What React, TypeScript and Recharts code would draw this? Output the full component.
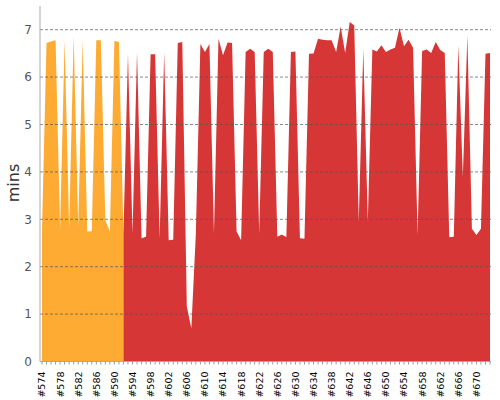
import { AreaChart, Area, XAxis, YAxis, ReferenceLine } from 'recharts';

// build numbers on the x axis
const builds = [
  '#574', '#575', '#576', '#577', '#578', '#579', '#580', '#581', '#582', '#583',
  '#584', '#585', '#586', '#587', '#588', '#589', '#590', '#591', '#592', '#593',
  '#594', '#595', '#596', '#597', '#598', '#599', '#600', '#601', '#602', '#603',
  '#604', '#605', '#606', '#607', '#608', '#609', '#610', '#611', '#612', '#613',
  '#614', '#615', '#616', '#617', '#618', '#619', '#620', '#621', '#622', '#623',
  '#624', '#625', '#626', '#627', '#628', '#629', '#630', '#631', '#632', '#633',
  '#634', '#635', '#636', '#637', '#638', '#639', '#640', '#641', '#642', '#643',
  '#644', '#645', '#646', '#647', '#648', '#649', '#650', '#651', '#652', '#653',
  '#654', '#655', '#656', '#657', '#658', '#659', '#660', '#661', '#662', '#663',
  '#664', '#665', '#666', '#667', '#668', '#669', '#670', '#671', '#672', '#673',
];

// duration (mins) of builds #574 - #591
const unstableMins = [
  2.8, 6.72, 6.75, 6.78, 2.8, 6.78, 2.8, 6.88, 2.85, 6.78,
  2.74, 2.75, 6.78, 6.78, 2.98, 2.74, 6.76, 6.74,
];

// duration (mins) of builds #592 - #673
const failedMins = [
  2.7, 6.49, 2.7, 6.53, 2.6, 2.63, 6.48, 6.48, 2.6, 6.52,
  2.56, 2.57, 6.72, 6.74, 1.16, 0.7, 2.7, 6.7, 6.53, 6.7,
  2.7, 6.81, 6.46, 6.73, 6.72, 2.74, 2.56, 6.53, 6.6, 6.53,
  2.7, 6.53, 6.6, 6.53, 2.63, 2.68, 2.62, 6.53, 6.54, 2.6,
  2.59, 6.49, 6.5, 6.81, 6.79, 6.78, 6.78, 6.53, 7.06, 6.51,
  7.16, 7.09, 2.95, 6.6, 2.95, 6.58, 6.54, 6.67, 6.53, 6.58,
  6.62, 7.04, 6.65, 6.79, 6.62, 2.67, 6.55, 6.58, 6.51, 6.74,
  6.57, 6.51, 2.62, 2.63, 6.67, 3.9, 6.88, 2.8, 2.67, 2.8,
  6.49, 6.51,
];

const yTicks = [0, 1, 2, 3, 4, 5, 6, 7];
const gridLines = [1, 2, 3, 4, 5, 6, 7];

const split = unstableMins.length;

const data = builds.map((build, i) => ({
  build,
  // the orange area joins the first failed build so the two areas meet
  unstable: i < split ? unstableMins[i] : i === split ? failedMins[0] : null,
  failed: i >= split ? failedMins[i - split] : null,
}));

const BuildTick = (props: any) => {
  const { x, y, payload, index } = props;
  if (index % 4 !== 0) return <g />;

  return (
    <g transform={`translate(${x},${y})`}>
      <text
        x={-5}
        dy='0.36em'
        textAnchor='end'
        transform='rotate(-90)'
        fontSize={9.5}
        fontFamily='DejaVu Sans'
        fill='#000'
      >
        {payload.value}
      </text>
    </g>
  );
};

const MinsLabel = () => (
  <text
    x={13}
    y={183}
    transform='rotate(-90 13 183)'
    textAnchor='middle'
    dominantBaseline='central'
    fontSize={16}
    fontFamily='DejaVu Sans'
    fill='#333'
  >
    mins
  </text>
);

export default function App() {
  return (
    <div style={{ position: 'absolute', left: 0, top: 0, width: 500, height: 400, background: '#fff' }}>
      <AreaChart
        width={500}
        height={400}
        data={data}
        margin={{ top: 6, right: 9, left: 0, bottom: 0 }}
      >
        <XAxis
          dataKey='build'
          interval={0}
          height={38.5}
          tickSize={3}
          tickMargin={2}
          tick={<BuildTick />}
          tickLine={{ stroke: '#999' }}
          axisLine={{ stroke: '#aaa' }}
          padding={{ left: 2, right: 1 }}
        />

        <YAxis
          width={40}
          domain={[0, 7.5]}
          ticks={yTicks}
          tickLine={false}
          tickSize={0}
          tickMargin={8}
          axisLine={{ stroke: '#aaa' }}
          tick={{ fontSize: 12, fill: '#555', fontFamily: 'DejaVu Sans' }}
          label={{ content: <MinsLabel /> }}
        />

        <Area
          type='linear'
          dataKey='unstable'
          stroke='none'
          fill='#FDAB33'
          fillOpacity={1}
          isAnimationActive={false}
        />

        <Area
          type='linear'
          dataKey='failed'
          stroke='none'
          fill='#D63636'
          fillOpacity={1}
          isAnimationActive={false}
        />

        {gridLines.map((v) => (
          <ReferenceLine
            key={v}
            y={v}
            stroke='#555'
            strokeOpacity={0.7}
            strokeDasharray='3 2'
          />
        ))}
      </AreaChart>
    </div>
  );
}
